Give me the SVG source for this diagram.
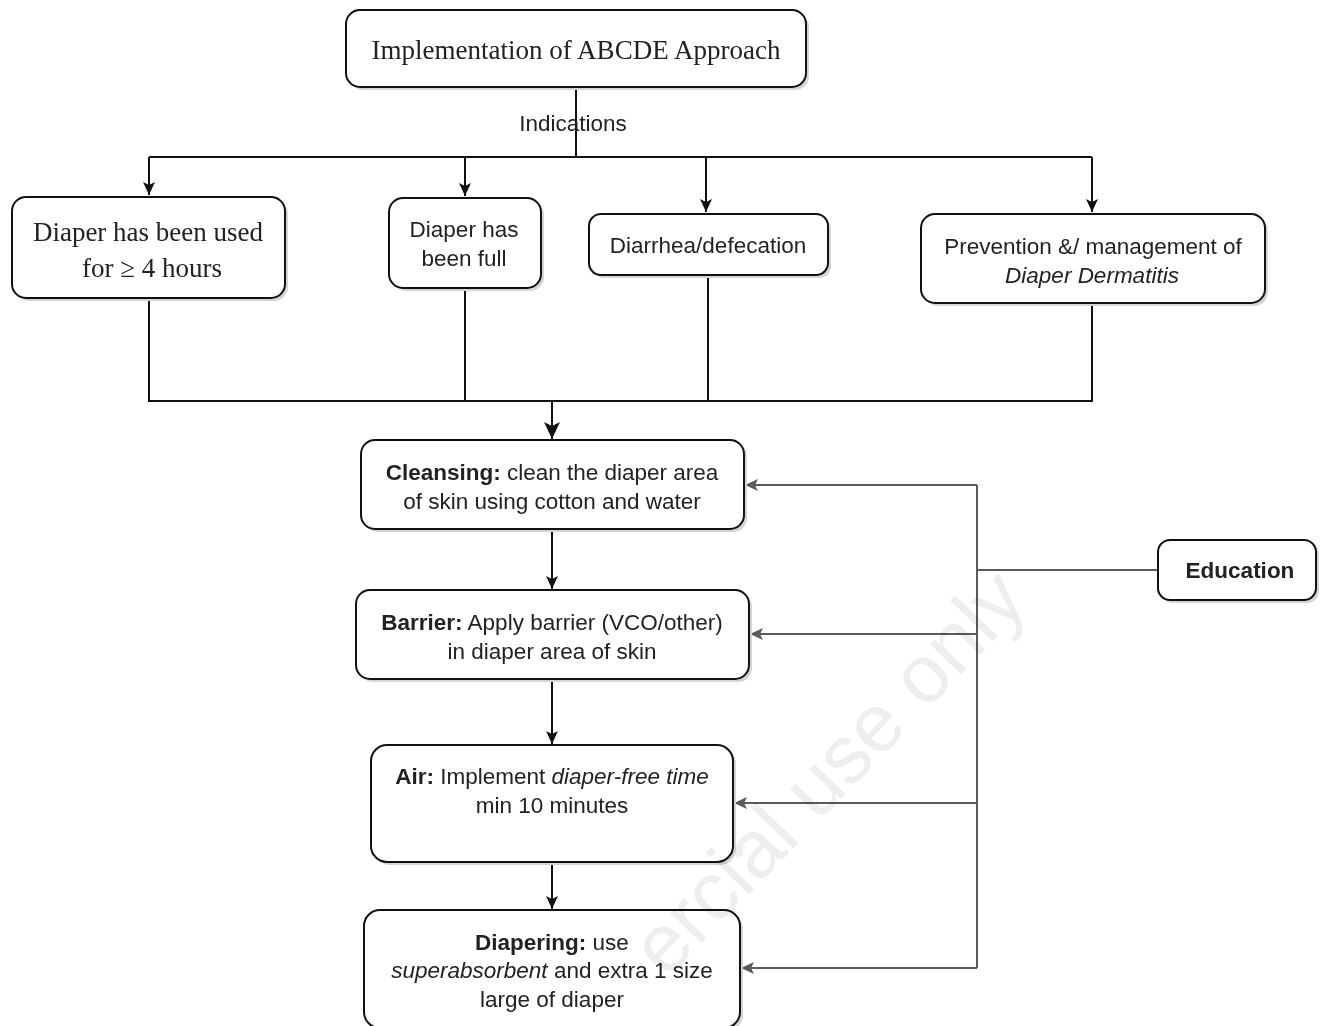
<svg xmlns="http://www.w3.org/2000/svg" width="1320" height="1026" viewBox="0 0 1320 1026">
<style>
.box{fill:#fff;stroke:#111;stroke-width:2}
.sh{fill:#d4d4d4}
.ln{fill:none;stroke:#111;stroke-width:2}
.gl{fill:none;stroke:#5a5a5a;stroke-width:2}
.s{font-family:"Liberation Sans",Arial,sans-serif;font-size:22.5px;fill:#222;text-anchor:middle}
.t{font-family:"Liberation Serif","Times New Roman",serif;font-size:27px;fill:#222;text-anchor:middle}
.b{font-weight:bold}
.i{font-style:italic}
.wm{font-family:"Liberation Sans",Arial,sans-serif;font-size:82px;fill:#eeeeee;mix-blend-mode:multiply}
</style>
<defs>
<marker id="ab" markerUnits="userSpaceOnUse" markerWidth="14" markerHeight="14" viewBox="0 0 14 14" refX="13" refY="7" orient="auto">
<path d="M0,1 L13,7 L0,13 L3,7 Z" fill="#111"/>
</marker>
<marker id="abL" markerUnits="userSpaceOnUse" markerWidth="18" markerHeight="18" viewBox="0 0 18 18" refX="17" refY="9" orient="auto">
<path d="M0,1 L17,9 L0,17 L4,9 Z" fill="#111"/>
</marker>
<marker id="ag" markerUnits="userSpaceOnUse" markerWidth="14" markerHeight="14" viewBox="0 0 14 14" refX="13" refY="7" orient="auto">
<path d="M0,1 L13,7 L0,13 L3,7 Z" fill="#5a5a5a"/>
</marker>
</defs>
<rect width="1320" height="1026" fill="#fff"/>

<g id="connectors">
<path class="ln" d="M576,87 V157"/>
<path class="ln" d="M149,157 H1092"/>
<path class="ln" d="M149,157 V195" marker-end="url(#ab)"/>
<path class="ln" d="M465,157 V196" marker-end="url(#ab)"/>
<path class="ln" d="M706,157 V212" marker-end="url(#ab)"/>
<path class="ln" d="M1092,157 V212" marker-end="url(#ab)"/>
<path class="ln" d="M149,298 V401 H1092 V303"/>
<path class="ln" d="M465,288 V401"/>
<path class="ln" d="M708,275 V401"/>
<path class="ln" d="M552,401 V439" stroke-width="3" marker-end="url(#abL)"/>
<path class="ln" d="M552,529 V589" marker-end="url(#ab)"/>
<path class="ln" d="M552,679 V744" marker-end="url(#ab)"/>
<path class="ln" d="M552,862 V909" marker-end="url(#ab)"/>
<path class="gl" d="M1158,570 H977"/>
<path class="gl" d="M977,485 V968"/>
<path class="gl" d="M977,485 H745" marker-end="url(#ag)"/>
<path class="gl" d="M977,634 H750" marker-end="url(#ag)"/>
<path class="gl" d="M977,803 H734" marker-end="url(#ag)"/>
<path class="gl" d="M977,968 H741" marker-end="url(#ag)"/>
</g>

<g id="title">
<rect class="sh" x="349" y="13" width="460" height="77" rx="14"/>
<rect class="box" x="346" y="10" width="460" height="77" rx="14"/>
<text class="t" x="576" y="59" textLength="409" lengthAdjust="spacingAndGlyphs">Implementation of ABCDE Approach</text>
</g>
<g id="indications-label">
<text class="s" x="573" y="131">Indications</text>
</g>

<g id="used4h">
<rect class="sh" x="15" y="200" width="273" height="101" rx="14"/>
<rect class="box" x="12" y="197" width="273" height="101" rx="14"/>
<text class="t" x="148" y="241">Diaper has been used</text>
<text class="t" x="152" y="277">for ≥ 4 hours</text>
</g>
<g id="full">
<rect class="sh" x="392" y="201" width="152" height="90" rx="14"/>
<rect class="box" x="389" y="198" width="152" height="90" rx="14"/>
<text class="s" x="464" y="237">Diaper has</text>
<text class="s" x="464" y="266">been full</text>
</g>
<g id="diarrhea">
<rect class="sh" x="592" y="217" width="239" height="61" rx="12"/>
<rect class="box" x="589" y="214" width="239" height="61" rx="12"/>
<text class="s" x="708" y="253">Diarrhea/defecation</text>
</g>
<g id="prevention">
<rect class="sh" x="924" y="217" width="344" height="89" rx="14"/>
<rect class="box" x="921" y="214" width="344" height="89" rx="14"/>
<text class="s" x="1093" y="254">Prevention &amp;/ management of</text>
<text class="s i" x="1092" y="283">Diaper Dermatitis</text>
</g>

<g id="cleansing">
<rect class="sh" x="364" y="443" width="383" height="89" rx="14"/>
<rect class="box" x="361" y="440" width="383" height="89" rx="14"/>
<text class="s" x="552" y="480"><tspan class="b">Cleansing:</tspan> clean the diaper area</text>
<text class="s" x="552" y="509">of skin using cotton and water</text>
</g>
<g id="barrier">
<rect class="sh" x="359" y="593" width="393" height="89" rx="14"/>
<rect class="box" x="356" y="590" width="393" height="89" rx="14"/>
<text class="s" x="552" y="630"><tspan class="b">Barrier:</tspan> Apply barrier (VCO/other)</text>
<text class="s" x="552" y="659">in diaper area of skin</text>
</g>
<g id="air">
<rect class="sh" x="374" y="748" width="362" height="117" rx="16"/>
<rect class="box" x="371" y="745" width="362" height="117" rx="16"/>
<text class="s" x="552" y="784"><tspan class="b">Air:</tspan> Implement <tspan class="i">diaper-free time</tspan></text>
<text class="s" x="552" y="813">min 10 minutes</text>
</g>
<g id="diapering">
<rect class="sh" x="367" y="913" width="376" height="118" rx="16"/>
<rect class="box" x="364" y="910" width="376" height="118" rx="16"/>
<text class="s" x="552" y="950"><tspan class="b">Diapering:</tspan> use</text>
<text class="s" x="552" y="978"><tspan class="i">superabsorbent</tspan> and extra 1 size</text>
<text class="s" x="552" y="1007">large of diaper</text>
</g>
<g id="education">
<rect class="sh" x="1161" y="543" width="158" height="60" rx="12"/>
<rect class="box" x="1158" y="540" width="158" height="60" rx="12"/>
<text class="s b" x="1240" y="578">Education</text>
</g>

<text class="wm" transform="translate(1030,603) rotate(-46)" text-anchor="end">ercial use only</text>
</svg>
